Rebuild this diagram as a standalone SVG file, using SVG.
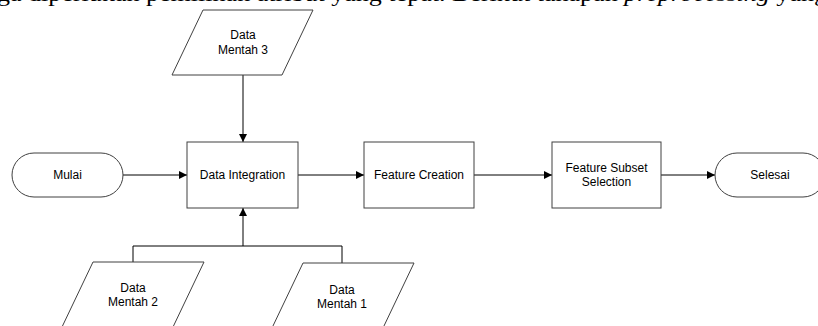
<svg xmlns="http://www.w3.org/2000/svg" width="818" height="326" viewBox="0 0 818 326">
<defs>
<marker id="arr" viewBox="0 0 10 10" refX="10" refY="5" markerWidth="9" markerHeight="8" markerUnits="userSpaceOnUse" orient="auto">
<path d="M0,0 L10,5 L0,10 z" fill="#000"/>
</marker>
<style>
.shape{fill:#fff;stroke:#404040;stroke-width:1}
.lbl{font-family:"Liberation Sans",Arial,sans-serif;font-size:12px;fill:#000;text-anchor:middle}
.conn{fill:none;stroke:#000;stroke-width:1}
.bg{font-family:"Liberation Serif","Times New Roman",serif;font-size:22px;fill:#000}
</style>
</defs>
<rect width="818" height="326" fill="#fff"/>
<text class="bg" x="-3" y="1" textLength="830" lengthAdjust="spacingAndGlyphs">ga diperlukan pemilihan atribut yang tepat. Berikut tahapan <tspan font-style="italic">preprocessing</tspan> yang</text>

<g id="connectors">
<line class="conn" x1="123" y1="175" x2="187" y2="175" marker-end="url(#arr)"/>
<line class="conn" x1="243" y1="75" x2="243" y2="142" marker-end="url(#arr)"/>
<line class="conn" x1="298" y1="175" x2="364" y2="175" marker-end="url(#arr)"/>
<line class="conn" x1="474" y1="175" x2="552" y2="175" marker-end="url(#arr)"/>
<line class="conn" x1="661" y1="175" x2="715" y2="175" marker-end="url(#arr)"/>
<polyline class="conn" points="133,262 133,246 342,246 342,263"/>
<line class="conn" x1="243" y1="246" x2="243" y2="208" marker-end="url(#arr)"/>
</g>

<g id="mulai">
<rect class="shape" x="12" y="153" width="111" height="44" rx="22" ry="22"/>
<text class="lbl" x="67.5" y="179">Mulai</text>
</g>
<g id="data-mentah-3">
<polygon class="shape" points="203,10 313,10 282,75 172,75"/>
<text class="lbl" x="243" y="39">Data</text>
<text class="lbl" x="243" y="54">Mentah 3</text>
</g>
<g id="data-integration">
<rect class="shape" x="187" y="142" width="111" height="66"/>
<text class="lbl" x="242.5" y="179">Data Integration</text>
</g>
<g id="feature-creation">
<rect class="shape" x="364" y="142" width="110" height="66"/>
<text class="lbl" x="419" y="179">Feature Creation</text>
</g>
<g id="feature-subset-selection">
<rect class="shape" x="552" y="142" width="109" height="66"/>
<text class="lbl" x="606.5" y="172">Feature Subset</text>
<text class="lbl" x="606.5" y="186">Selection</text>
</g>
<g id="selesai">
<rect class="shape" x="715" y="153" width="110" height="44" rx="22" ry="22"/>
<text class="lbl" x="770" y="179">Selesai</text>
</g>
<g id="data-mentah-2">
<polygon class="shape" points="93,262 204,262 173,327 62,327"/>
<text class="lbl" x="133" y="292">Data</text>
<text class="lbl" x="133" y="306">Mentah 2</text>
</g>
<g id="data-mentah-1">
<polygon class="shape" points="303,263 414,263 383,328 272,328"/>
<text class="lbl" x="342" y="294">Data</text>
<text class="lbl" x="342" y="308">Mentah 1</text>
</g>
</svg>
